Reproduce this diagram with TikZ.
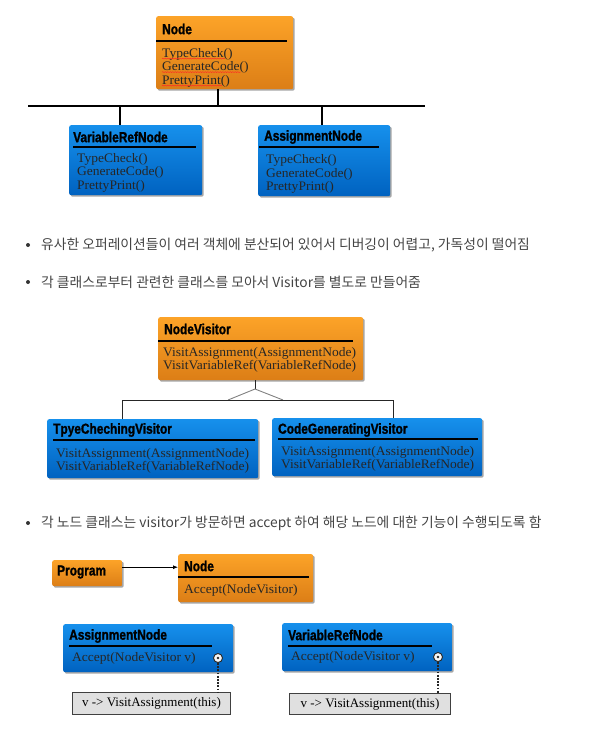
\documentclass[tikz,border=0pt]{standalone}
\usepackage{fontspec}
\usepackage{xcolor}
\usepackage{tikz}
\usetikzlibrary{shadows,arrows.meta,decorations.pathmorphing}
\newfontfamily\kofont{Noto Sans CJK KR}
\newfontfamily\headfont[FakeStretch=0.82,FakeBold=1.3]{Liberation Sans Bold}
\newfontfamily\methfont[FakeStretch=1.04]{Liberation Serif}
\newfontfamily\callfont{Liberation Serif}
\definecolor{orgtop}{RGB}{252,163,40}
\definecolor{orgbot}{RGB}{220,126,22}
\definecolor{blutop}{RGB}{22,144,236}
\definecolor{blubot}{RGB}{0,98,192}
\definecolor{bulletgray}{RGB}{68,68,68}
\definecolor{callgray}{RGB}{224,224,224}

\begin{document}
\begin{tikzpicture}[x=1pt,y=-1pt,
  classbox/.style={rectangle, rounded corners=2pt, inner sep=0pt, anchor=north west,
    drop shadow={shadow xshift=1.5pt, shadow yshift=-1.5pt, fill=black, opacity=0.35}},
  orangebox/.style={classbox, top color=orgtop, bottom color=orgbot},
  bluebox/.style={classbox, top color=blutop, bottom color=blubot},
  classtitle/.style={anchor=west, inner sep=0pt, font=\headfont\fontsize{14.5}{16}\selectfont},
  method/.style={anchor=west, inner sep=0pt, text=black!85, font=\methfont\fontsize{13}{15}\selectfont},
  classrule/.style={line width=1.2pt, black},
  bus/.style={line width=1.4pt, black},
  thinline/.style={line width=0.8pt, black!85},
  squiggle/.style={red!85, line width=0.4pt, decorate, decoration={snake, amplitude=0.5pt, segment length=2.5pt}},
  bullettext/.style={anchor=west, inner sep=0pt, text=bulletgray, font=\kofont\fontsize{13.8}{16}\selectfont},
  callbox/.style={rectangle, draw=black!75, line width=1pt, fill=callgray, inner sep=0pt, anchor=north west,
    font=\callfont\fontsize{13}{15}\selectfont},
  pinhole/.style={circle, draw=black!85, fill=white!92!gray, line width=0.9pt, minimum size=9pt, inner sep=0pt},
  dotline/.style={line width=2.2pt, black!85, dash pattern=on 1.8pt off 1.4pt}]
  \useasboundingbox (0,0) rectangle (601,730);

  % Node with three operations
  \node[orangebox, minimum width=137pt, minimum height=73pt] (nodeA) at (156,16) {};
  \node[classtitle] (nodeA-t) at (162,29) {Node};
  \draw[classrule] (156,41) -- (287,41);
  \foreach \m [count=\i] in {TypeCheck(),GenerateCode(),PrettyPrint()}
    \node[method] (nodeA-m\i) at (162,{40.5+13.5*\i}) {\m};
  \foreach \i in {1,2,3}
    \draw[squiggle] ([yshift=1.5pt]nodeA-m\i.south west) -- ([xshift=-8pt,yshift=1.5pt]nodeA-m\i.south east);

  \node[bluebox, minimum width=133pt, minimum height=70pt] (varA) at (69,125) {};
  \node[classtitle] (varA-t) at (73,137) {VariableRefNode};
  \draw[classrule] (73,147) -- (196,147);
  \foreach \m [count=\i] in {TypeCheck(),GenerateCode(),PrettyPrint()}
    \node[method] (varA-m\i) at (77,{145.5+13.5*\i}) {\m};

  \node[bluebox, minimum width=132pt, minimum height=71pt] (asgA) at (258,125) {};
  \node[classtitle] (asgA-t) at (264,137) {AssignmentNode};
  \draw[classrule] (259,147) -- (379,147);
  \foreach \m [count=\i] in {TypeCheck(),GenerateCode(),PrettyPrint()}
    \node[method] (asgA-m\i) at (266,{147+13.5*\i}) {\m};

  \coordinate (hub) at (218,106);
  \coordinate (busA) at (28,106);
  \coordinate (busB) at (425,106);
  \coordinate (dropA) at (120,106);
  \coordinate (dropB) at (322,106);
  \draw[bus] (nodeA.south -| hub) -- (hub);
  \draw[bus] (busA) -- (busB);
  \draw[bus] (dropA) -- (dropA |- varA.north);
  \draw[bus] (dropB) -- (dropB |- asgA.north);

  % remarks
  \fill[black!80] (28,245) circle (2pt);
  \node[bullettext] (noteA) at (41,245) {유사한 오퍼레이션들이 여러 객체에 분산되어 있어서 디버깅이 어렵고, 가독성이 떨어짐};
  \fill[black!80] (28,282) circle (2pt);
  \node[bullettext] (noteB) at (41,282) {각 클래스로부터 관련한 클래스를 모아서 Visitor를 별도로 만들어줌};

  % visitor hierarchy
  \node[orangebox, minimum width=205pt, minimum height=63pt] (visA) at (158,317) {};
  \node[classtitle] (visA-t) at (164,329) {NodeVisitor};
  \draw[classrule] (158,341) -- (353,341);
  \foreach \m [count=\i] in {VisitAssignment(AssignmentNode),VisitVariableRef(VariableRefNode)}
    \node[method] (visA-m\i) at (163,{340+13*\i}) {\m};

  \node[bluebox, minimum width=211pt, minimum height=59pt] (tcv) at (47,419) {};
  \node[classtitle] (tcv-t) at (53,430) {TpyeChechingVisitor};
  \draw[classrule] (53,440) -- (255,440);
  \foreach \m [count=\i] in {VisitAssignment(AssignmentNode),VisitVariableRef(VariableRefNode)}
    \node[method] (tcv-m\i) at (56,{441+13*\i}) {\m};

  \node[bluebox, minimum width=210pt, minimum height=58pt] (cgv) at (272,418) {};
  \node[classtitle] (cgv-t) at (278,430) {CodeGeneratingVisitor};
  \draw[classrule] (278,439) -- (478,439);
  \foreach \m [count=\i] in {VisitAssignment(AssignmentNode),VisitVariableRef(VariableRefNode)}
    \node[method] (cgv-m\i) at (281,{439.5+13*\i}) {\m};

  \coordinate (apex) at (255,389);
  \coordinate (triL) at (228,400);
  \coordinate (triR) at (283,400);
  \coordinate (busC) at (122,400);
  \coordinate (busD) at (393,400);
  \draw[thinline] (visA.south -| apex) -- (apex);
  \draw[gray, line width=0.9pt] (triL) -- (apex) -- (triR);
  \draw[thinline] (busC |- tcv.north) -- (busC) -- (busD) -- (busD |- cgv.north);

  \fill[black!80] (28,523) circle (2pt);
  \node[bullettext] (noteC) at (41,523) {각 노드 클래스는 visitor가 방문하면 accept 하여 해당 노드에 대한 기능이 수행되도록 함};

  % accept
  \node[orangebox, minimum width=70pt, minimum height=26pt] (prog) at (52,560) {};
  \node[classtitle] (prog-t) at (57,572) {Program};

  \node[orangebox, minimum width=135pt, minimum height=48pt] (nodeC) at (178,554) {};
  \node[classtitle] (nodeC-t) at (184,566) {Node};
  \draw[classrule] (178,577) -- (309,577);
  \node[method] (nodeC-m1) at (184,590) {Accept(NodeVisitor)};
  \draw[-{Latex[length=5pt,width=4pt]}, line width=0.8pt] ([yshift=6pt]prog.east) -- ([yshift=6pt]prog.east -| nodeC.west);

  \node[bluebox, minimum width=170pt, minimum height=48pt] (asgC) at (63,624) {};
  \node[classtitle] (asgC-t) at (69,636) {AssignmentNode};
  \draw[classrule] (69,646) -- (212,646);
  \node[method] (asgC-m1) at (72,658) {Accept(NodeVisitor v)};
  \node[pinhole] (pinA) at (218,658) {};
  \fill[black!85] (pinA) circle (1.4pt);

  \node[bluebox, minimum width=170pt, minimum height=48pt] (varC) at (282,623) {};
  \node[classtitle] (varC-t) at (288,635) {VariableRefNode};
  \draw[classrule] (288,646) -- (432,646);
  \node[method] (varC-m1) at (291,657) {Accept(NodeVisitor v)};
  \node[pinhole] (pinB) at (438,657) {};
  \fill[black!85] (pinB) circle (1.4pt);

  \node[callbox, minimum width=158pt, minimum height=22pt] (callA) at (72,692) {v -> VisitAssignment(this)};
  \node[callbox, minimum width=161pt, minimum height=21pt] (callB) at (289,693) {v -> VisitAssignment(this)};
  \draw[dotline] (pinA.south) -- (pinA.south |- callA.north);
  \draw[dotline] (pinB.south) -- (pinB.south |- callB.north);
\end{tikzpicture}
\end{document}
